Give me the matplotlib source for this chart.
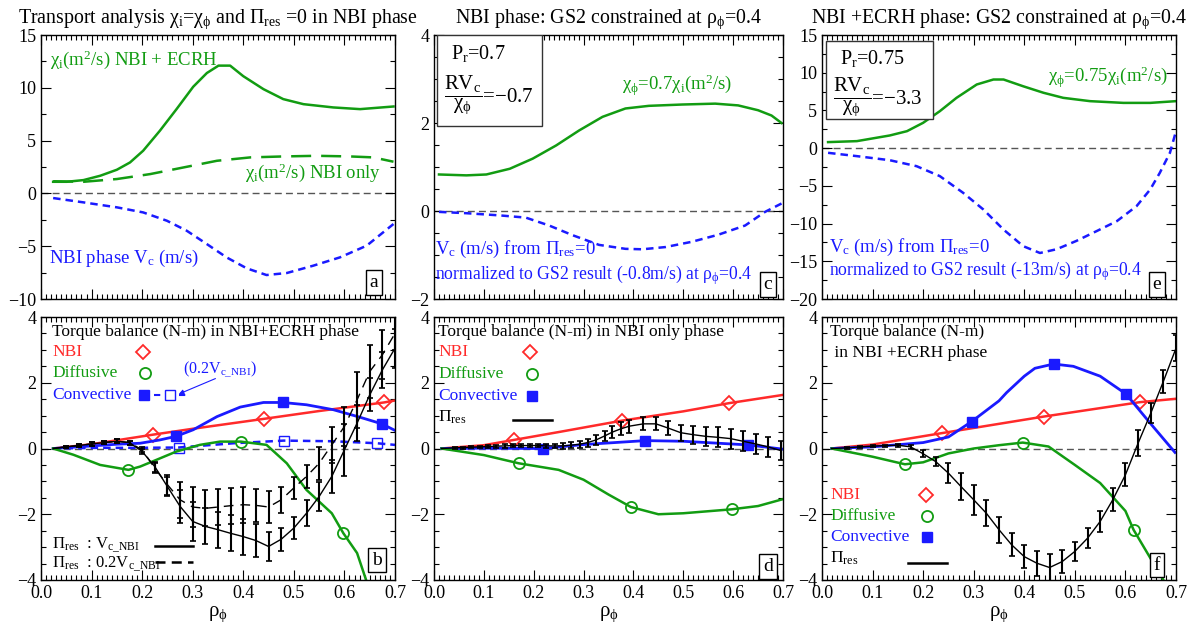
import matplotlib
matplotlib.use("Agg")
import matplotlib.pyplot as plt
from matplotlib.patches import Rectangle
from matplotlib.ticker import MultipleLocator
import numpy as np

plt.rcParams['font.family'] = ['Liberation Serif', 'DejaVu Serif']
plt.rcParams['mathtext.fontset'] = 'custom'
plt.rcParams['mathtext.rm'] = 'Liberation Serif'
plt.rcParams['mathtext.it'] = 'Liberation Serif'
plt.rcParams['mathtext.bf'] = 'Liberation Serif'
plt.rcParams['mathtext.default'] = 'regular'

GREEN = '#129c12'
RED = '#ff2a2a'
BLUE = '#1a1aff'

# ---------------- Panel a ----------------
rho_a_chi_ecrh = [0.024, 0.051, 0.084, 0.117, 0.15, 0.176, 0.202, 0.235, 0.268, 0.301, 0.328, 0.351, 0.374, 0.400, 0.44, 0.479, 0.519, 0.578, 0.631, 0.697]
chi_a_ecrh = [1.1, 1.1, 1.26, 1.67, 2.24, 2.93, 4.04, 5.93, 7.98, 10.1, 11.4, 12.1, 12.1, 11.1, 9.87, 8.93, 8.45, 8.14, 7.98, 8.23]
rho_a_chi_nbi = [0.024, 0.084, 0.15, 0.216, 0.282, 0.348, 0.414, 0.479, 0.545, 0.611, 0.657, 0.697]
chi_a_nbi = [1.15, 1.1, 1.36, 1.83, 2.46, 3.09, 3.41, 3.50, 3.56, 3.5, 3.41, 3.0]
rho_a_vc = [0.024, 0.084, 0.15, 0.202, 0.249, 0.288, 0.328, 0.367, 0.407, 0.446, 0.486, 0.538, 0.591, 0.644, 0.697]
vc_a = [-0.44, -0.85, -1.32, -1.8, -2.59, -3.53, -4.8, -6.06, -7.1, -7.73, -7.54, -6.85, -6.06, -4.95, -2.9]

# ---------------- Panel c ----------------
rho_c_chi = [0.01, 0.065, 0.105, 0.152, 0.198, 0.245, 0.291, 0.338, 0.384, 0.431, 0.498, 0.564, 0.610, 0.650, 0.677, 0.697]
chi_c = [0.83, 0.81, 0.83, 0.96, 1.19, 1.49, 1.83, 2.14, 2.33, 2.39, 2.42, 2.44, 2.40, 2.29, 2.17, 2.0]
rho_c_vc = [0.01, 0.065, 0.132, 0.184, 0.231, 0.278, 0.331, 0.384, 0.418, 0.464, 0.517, 0.570, 0.624, 0.664, 0.697]
vc_c = [-0.02, -0.05, -0.1, -0.15, -0.33, -0.55, -0.77, -0.86, -0.87, -0.82, -0.7, -0.54, -0.33, -0.02, 0.17]

# ---------------- Panel e ----------------
rho_e_chi = [0.012, 0.069, 0.134, 0.168, 0.2, 0.233, 0.266, 0.306, 0.339, 0.359, 0.398, 0.438, 0.477, 0.53, 0.596, 0.649, 0.7]
chi_e = [0.8, 0.93, 1.68, 2.25, 3.36, 4.9, 6.67, 8.44, 9.1, 9.1, 8.2, 7.34, 6.67, 6.23, 6.0, 6.0, 6.23]
rho_e_vc = [0.012, 0.069, 0.134, 0.187, 0.233, 0.279, 0.319, 0.359, 0.398, 0.431, 0.464, 0.503, 0.543, 0.583, 0.622, 0.649, 0.668, 0.688, 0.7]
vc_e = [-0.62, -1.06, -1.6, -2.39, -3.71, -5.92, -8.13, -10.8, -13.0, -13.9, -13.4, -12.3, -11.0, -9.68, -7.69, -5.48, -3.27, -0.62, 2.25]

# ---------------- Panel b ----------------
rho_b_nbi = [0.024, 0.1, 0.15, 0.221, 0.3, 0.44, 0.55, 0.678, 0.7]
nbi_b = [0.0, 0.13, 0.25, 0.42, 0.6, 0.90, 1.14, 1.40, 1.46]
rho_b_nbi_mk = [0.221, 0.440, 0.678]
nbi_b_mk = [0.42, 0.90, 1.40]
rho_b_conv = [0.024, 0.084, 0.15, 0.196, 0.235, 0.267, 0.301, 0.348, 0.394, 0.44, 0.478, 0.525, 0.578, 0.631, 0.674, 0.7]
conv_b = [0.0, 0.06, 0.13, 0.16, 0.26, 0.37, 0.57, 0.97, 1.26, 1.40, 1.40, 1.33, 1.18, 0.95, 0.75, 0.55]
rho_b_conv_mk = [0.267, 0.478, 0.674]
conv_b_mk = [0.37, 1.40, 0.76]
rho_b_conv02 = [0.024, 0.117, 0.183, 0.272, 0.381, 0.480, 0.578, 0.664, 0.7]
conv02_b = [0.0, 0.02, 0.02, 0.03, 0.16, 0.24, 0.22, 0.16, 0.11]
rho_b_conv02_mk = [0.272, 0.480, 0.664]
conv02_b_mk = [0.03, 0.24, 0.16]
rho_b_diff = [0.024, 0.064, 0.117, 0.173, 0.196, 0.229, 0.268, 0.314, 0.354, 0.395, 0.446, 0.486, 0.525, 0.575, 0.598, 0.625, 0.645]
diff_b = [0.0, -0.19, -0.5, -0.65, -0.55, -0.34, -0.09, 0.11, 0.21, 0.21, 0.11, -0.45, -1.26, -1.97, -2.58, -3.18, -4.1]
rho_b_diff_mk = [0.173, 0.395, 0.598]
diff_b_mk = [-0.65, 0.21, -2.58]
rho_b_res = [0.05, 0.075, 0.1, 0.125, 0.15, 0.175, 0.2, 0.225, 0.25, 0.275, 0.3, 0.325, 0.35, 0.375, 0.4,
             0.425, 0.45, 0.475, 0.5, 0.525, 0.55, 0.575, 0.6, 0.625, 0.65, 0.675, 0.7]
res_b = [0.05, 0.09, 0.14, 0.18, 0.22, 0.18, -0.09, -0.55, -1.16, -1.76, -2.22, -2.37, -2.47, -2.58, -2.68,
         -2.8, -2.98, -2.76, -2.42, -1.97, -1.46, -0.85, -0.04, 0.77, 1.63, 2.39, 3.05]
res_b_err = [0.03, 0.04, 0.05, 0.05, 0.06, 0.06, 0.08, 0.15, 0.3, 0.5, 0.6, 0.55, 0.55, 0.55, 0.55,
             0.5, 0.45, 0.35, 0.33, 0.4, 0.45, 0.5, 0.8, 0.55, 0.5, 0.55, 0.6]
res02_b = [0.05, 0.09, 0.14, 0.18, 0.22, 0.18, -0.04, -0.6, -1.1, -1.56, -1.78, -1.82, -1.78, -1.74, -1.71,
           -1.73, -1.78, -1.56, -1.2, -0.85, -0.45, 0.11, 0.67, 1.48, 2.34, 2.85, 3.5]
res02_b_err = [0.03, 0.04, 0.05, 0.05, 0.06, 0.06, 0.08, 0.15, 0.3, 0.55, 0.6, 0.55, 0.55, 0.55, 0.55,
               0.5, 0.5, 0.4, 0.33, 0.35, 0.5, 0.55, 0.6, 0.85, 0.8, 0.75, 0.5]

# ---------------- Panel d ----------------
rho_d_nbi = [0.015, 0.1, 0.16, 0.25, 0.378, 0.5, 0.592, 0.7]
nbi_d = [0.0, 0.1, 0.26, 0.5, 0.85, 1.13, 1.38, 1.63]
rho_d_nbi_mk = [0.16, 0.378, 0.592]
nbi_d_mk = [0.26, 0.85, 1.38]
rho_d_conv = [0.015, 0.1, 0.218, 0.3, 0.424, 0.5, 0.629, 0.7]
conv_d = [0.0, 0.01, 0.0, 0.12, 0.24, 0.22, 0.11, -0.02]
rho_d_conv_mk = [0.218, 0.424, 0.629]
conv_d_mk = [0.0, 0.24, 0.11]
rho_d_diff = [0.015, 0.1, 0.17, 0.25, 0.3, 0.35, 0.395, 0.45, 0.5, 0.597, 0.65, 0.7]
diff_d = [0.0, -0.2, -0.45, -0.65, -0.95, -1.4, -1.78, -2.0, -1.97, -1.85, -1.75, -1.54]
rho_d_diff_mk = [0.17, 0.395, 0.597]
diff_d_mk = [-0.45, -1.78, -1.85]
rho_d_res = [0.042, 0.058, 0.075, 0.092, 0.108, 0.125, 0.142, 0.158, 0.175, 0.192, 0.208, 0.225, 0.242, 0.258,
             0.275, 0.292, 0.308, 0.325, 0.342, 0.358, 0.375, 0.392, 0.42, 0.445, 0.47, 0.495, 0.52, 0.545,
             0.57, 0.595, 0.62, 0.645, 0.67, 0.695]
res_d = [0.02, 0.03, 0.04, 0.05, 0.06, 0.07, 0.08, 0.09, 0.09, 0.09, 0.09, 0.08, 0.08, 0.08,
         0.1, 0.13, 0.18, 0.26, 0.38, 0.5, 0.6, 0.68, 0.75, 0.75, 0.62, 0.48, 0.42, 0.37,
         0.34, 0.3, 0.22, 0.14, 0.05, -0.06]
res_d_err = [0.03, 0.03, 0.03, 0.04, 0.04, 0.04, 0.05, 0.05, 0.05, 0.05, 0.05, 0.06, 0.07, 0.08,
             0.09, 0.1, 0.12, 0.14, 0.16, 0.18, 0.2, 0.2, 0.2, 0.2, 0.22, 0.25, 0.27, 0.28,
             0.3, 0.3, 0.3, 0.3, 0.3, 0.3]

# ---------------- Panel f ----------------
rho_f_nbi = [0.019, 0.1, 0.238, 0.438, 0.629, 0.698]
nbi_f = [0.0, 0.12, 0.47, 0.97, 1.41, 1.51]
rho_f_nbi_mk = [0.238, 0.438, 0.629]
nbi_f_mk = [0.47, 0.97, 1.41]
rho_f_conv = [0.019, 0.1, 0.2, 0.25, 0.296, 0.35, 0.365, 0.4, 0.421, 0.458, 0.497, 0.55, 0.601, 0.649, 0.698]
conv_f = [0.0, 0.05, 0.18, 0.35, 0.82, 1.45, 1.7, 2.2, 2.44, 2.57, 2.5, 2.2, 1.66, 0.77, -0.12]
rho_f_conv_mk = [0.296, 0.458, 0.601]
conv_f_mk = [0.82, 2.57, 1.66]
rho_f_diff = [0.019, 0.1, 0.164, 0.2, 0.25, 0.3, 0.35, 0.397, 0.448, 0.5, 0.55, 0.6, 0.616, 0.675]
diff_f = [0.0, -0.25, -0.48, -0.42, -0.15, 0.0, 0.1, 0.18, 0.06, -0.5, -1.05, -1.9, -2.47, -4.0]
rho_f_diff_mk = [0.164, 0.397, 0.616]
diff_f_mk = [-0.48, 0.18, -2.47]
rho_f_res = [0.05, 0.075, 0.1, 0.125, 0.15, 0.175, 0.2, 0.225, 0.25, 0.275, 0.3, 0.325, 0.35, 0.375, 0.4,
             0.425, 0.45, 0.475, 0.5, 0.525, 0.55, 0.575, 0.6, 0.625, 0.65, 0.675, 0.7]
res_f = [0.02, 0.05, 0.07, 0.09, 0.1, 0.05, -0.16, -0.4, -0.75, -1.16, -1.56, -1.97, -2.47, -2.93, -3.29,
         -3.49, -3.62, -3.44, -3.13, -2.73, -2.22, -1.56, -0.8, 0.16, 1.07, 2.04, 3.05]
res_f_err = [0.02, 0.02, 0.03, 0.03, 0.04, 0.05, 0.1, 0.13, 0.3, 0.4, 0.45, 0.4, 0.4, 0.35, 0.35,
             0.38, 0.4, 0.35, 0.3, 0.3, 0.33, 0.35, 0.35, 0.4, 0.3, 0.35, 0.4]

xticks = [0.0, 0.1, 0.2, 0.3, 0.4, 0.5, 0.6, 0.7]

FS_TICK = 13
FS_TXT = 12.5
FS_NOTE = 13.5

fig = plt.figure(figsize=(11.89, 6.26), dpi=100)
W, H = 1189.0, 626.0

def mkax(x0, x1, y0, y1):
    return fig.add_axes([x0 / W, 1 - y1 / H, (x1 - x0) / W, (y1 - y0) / H])

ax_a = mkax(41, 395, 35, 299)
ax_c = mkax(434, 783, 35, 299)
ax_e = mkax(822, 1176, 35, 299)
ax_b = mkax(41, 395, 317, 580)
ax_d = mkax(434, 783, 317, 580)
ax_f = mkax(822, 1176, 317, 580)

def style(ax, ylim, ymaj, ymin, bottom):
    ax.set_xlim(0, 0.7)
    ax.set_ylim(*ylim)
    ax.xaxis.set_major_locator(MultipleLocator(0.1))
    ax.xaxis.set_minor_locator(MultipleLocator(0.01))
    ax.yaxis.set_major_locator(MultipleLocator(ymaj))
    ax.yaxis.set_minor_locator(MultipleLocator(ymin))
    ax.tick_params(which='both', direction='in', top=True, right=True, labelsize=FS_TICK, width=0.8)
    ax.tick_params(which='major', length=7)
    ax.tick_params(which='minor', length=3.5)
    if bottom:
        ax.set_xticks(xticks)
        ax.set_xticklabels(['%.1f' % v for v in xticks])
        ax.set_xlabel(r'$\rho_\phi$', fontsize=15, labelpad=2)
    else:
        ax.set_xticklabels([])
    yt = ax.get_yticks()
    ax.set_yticks(yt)
    ax.set_yticklabels([('%g' % v).replace('-', '\u2212') for v in yt])
    ax.set_ylim(*ylim)
    ax.axhline(0, color='#555555', lw=1.0, ls=(0, (5, 3)), zorder=1)
    for s in ax.spines.values():
        s.set_linewidth(1.0)

def letter_box(ax, s, x, y):
    ax.text(x, y, s, transform=ax.transAxes, fontsize=14, ha='center', va='center',
            bbox=dict(boxstyle='square,pad=0.2', fc='white', ec='black', lw=1.0), zorder=6)

# ---- a ----
style(ax_a, (-10, 15), 5, 2.5, False)
ax_a.plot(rho_a_chi_ecrh, chi_a_ecrh, color=GREEN, lw=1.8)
ax_a.plot(rho_a_chi_nbi, chi_a_nbi, color=GREEN, lw=1.8, ls=(0, (8, 4)))
ax_a.plot(rho_a_vc, vc_a, color=BLUE, lw=1.8, ls=(0, (3, 2)))
ax_a.set_title(r'Transport analysis $\chi_i$=$\chi_\phi$ and $\Pi_{res}$ =0 in NBI phase', fontsize=14.3, pad=8.5)
ax_a.text(0.025, 0.905, r'$\chi_i$(m$^2$/s) NBI + ECRH', transform=ax_a.transAxes, color=GREEN, fontsize=FS_NOTE, va='center')
ax_a.text(0.576, 0.477, r'$\chi_i$(m$^2$/s) NBI only', transform=ax_a.transAxes, color=GREEN, fontsize=FS_NOTE, va='center')
ax_a.text(0.023, 0.155, r'NBI phase V$_c$ (m/s)', transform=ax_a.transAxes, color=BLUE, fontsize=FS_NOTE, va='center')
letter_box(ax_a, 'a', 0.94, 0.062)

# ---- c ----
style(ax_c, (-2, 4), 2, 0.5, False)
ax_c.plot(rho_c_chi, chi_c, color=GREEN, lw=1.8)
ax_c.plot(rho_c_vc, vc_c, color=BLUE, lw=1.8, ls=(0, (3, 2)))
ax_c.set_title(r'NBI phase: GS2 constrained at $\rho_\phi$=0.4', fontsize=14.3, pad=8.5)
ax_c.add_patch(Rectangle((0.01, 0.655), 0.30, 0.345, transform=ax_c.transAxes, fc='white', ec='#333333', lw=1.0, zorder=5))
ax_c.text(0.05, 0.93, r'P$_r$=0.7', transform=ax_c.transAxes, fontsize=14.5, va='center', zorder=6)
ax_c.text(0.03, 0.77, r'$\dfrac{RV_c}{\chi_\phi}$=$-$0.7', transform=ax_c.transAxes, fontsize=15, va='center', zorder=6)
ax_c.text(0.54, 0.81, r'$\chi_\phi$=0.7$\chi_i$(m$^2$/s)', transform=ax_c.transAxes, color=GREEN, fontsize=FS_NOTE, va='center')
ax_c.text(0.003, 0.186, r'V$_c$ (m/s) from $\Pi_{res}$=0', transform=ax_c.transAxes, color=BLUE, fontsize=FS_NOTE, va='center')
ax_c.text(0.003, 0.09, r'normalized to GS2 result (-0.8m/s) at $\rho_\phi$=0.4', transform=ax_c.transAxes, color=BLUE, fontsize=12.7, va='center')
letter_box(ax_c, 'c', 0.957, 0.055)

# ---- e ----
style(ax_e, (-20, 15), 5, 2.5, False)
ax_e.plot(rho_e_chi, chi_e, color=GREEN, lw=1.8)
ax_e.plot(rho_e_vc, vc_e, color=BLUE, lw=1.8, ls=(0, (3, 2)))
ax_e.set_title(r'NBI +ECRH phase: GS2 constrained at $\rho_\phi$=0.4', fontsize=14.3, pad=8.5)
ax_e.add_patch(Rectangle((0.011, 0.682), 0.303, 0.295, transform=ax_e.transAxes, fc='white', ec='#333333', lw=1.0, zorder=5))
ax_e.text(0.05, 0.91, r'P$_r$=0.75', transform=ax_e.transAxes, fontsize=14.5, va='center', zorder=6)
ax_e.text(0.03, 0.765, r'$\dfrac{RV_c}{\chi_\phi}$=$-$3.3', transform=ax_e.transAxes, fontsize=15, va='center', zorder=6)
ax_e.text(0.977, 0.84, r'$\chi_\phi$=0.75$\chi_i$(m$^2$/s)', transform=ax_e.transAxes, color=GREEN, fontsize=FS_NOTE, va='center', ha='right')
ax_e.text(0.02, 0.197, r'V$_c$ (m/s) from $\Pi_{res}$=0', transform=ax_e.transAxes, color=BLUE, fontsize=FS_NOTE, va='center')
ax_e.text(0.02, 0.106, r'normalized to GS2 result (-13m/s) at $\rho_\phi$=0.4', transform=ax_e.transAxes, color=BLUE, fontsize=12.7, va='center')
letter_box(ax_e, 'e', 0.946, 0.055)

# ---- b ----
MS = dict(ms=8, mew=1.3)
style(ax_b, (-4, 4), 2, 0.5, True)
ax_b.plot(rho_b_nbi, nbi_b, color=RED, lw=1.8)
ax_b.plot(rho_b_nbi_mk, nbi_b_mk, ls='none', marker='D', mfc='none', mec=RED, ms=7, mew=1.3)
ax_b.plot(rho_b_conv, conv_b, color=BLUE, lw=2.0)
ax_b.plot(rho_b_conv_mk, conv_b_mk, ls='none', marker='s', color=BLUE, ms=6.5)
ax_b.plot(rho_b_conv02, conv02_b, color=BLUE, lw=1.8, ls=(0, (3, 2)))
ax_b.plot(rho_b_conv02_mk, conv02_b_mk, ls='none', marker='s', mfc='none', mec=BLUE, ms=6.5, mew=1.0)
ax_b.plot(rho_b_diff, diff_b, color=GREEN, lw=1.8)
ax_b.plot(rho_b_diff_mk, diff_b_mk, ls='none', marker='o', mfc='none', mec=GREEN, **MS)
ax_b.plot([0.024] + rho_b_res, [0.0] + res_b, color='black', lw=1.0)
ax_b.errorbar(rho_b_res, res_b, yerr=res_b_err, fmt='none', ecolor='black', elinewidth=1.5, capsize=2.5, capthick=1.2)
ax_b.plot([0.024] + rho_b_res, [0.0] + res02_b, color='black', lw=1.0, ls=(0, (7, 5)))
ax_b.errorbar(rho_b_res, res02_b, yerr=res02_b_err, fmt='none', ecolor='black', elinewidth=1.5, capsize=2.5, capthick=1.2)
tb = ax_b.transAxes
ax_b.text(0.031, 0.943, 'Torque balance (N-m) in NBI+ECRH phase', transform=tb, fontsize=FS_TXT, va='center')
ax_b.text(0.031, 0.867, 'NBI', transform=tb, fontsize=FS_TXT, va='center', color=RED)
ax_b.plot([0.288], [0.867], transform=tb, marker='D', mfc='none', mec=RED, ms=7, mew=1.3, clip_on=False)
ax_b.text(0.031, 0.787, 'Diffusive', transform=tb, fontsize=FS_TXT, va='center', color=GREEN)
ax_b.plot([0.294], [0.787], transform=tb, marker='o', mfc='none', mec=GREEN, clip_on=False, **MS)
ax_b.text(0.031, 0.703, 'Convective', transform=tb, fontsize=FS_TXT, va='center', color=BLUE)
ax_b.plot([0.291], [0.703], transform=tb, marker='s', color=BLUE, ms=6.5, clip_on=False)
ax_b.plot([0.318, 0.415], [0.703, 0.703], transform=tb, color=BLUE, lw=1.5, ls=(0, (3, 3)))
ax_b.plot([0.364], [0.703], transform=tb, marker='s', mfc='white', mec=BLUE, ms=6.5, mew=1.0)
ax_b.text(0.40, 0.80, r'(0.2V$_{c\_NBI}$)', transform=tb, fontsize=11.5, va='center', color=BLUE)
ax_b.annotate('', xy=(0.382, 0.703), xytext=(0.50, 0.77), xycoords=tb, textcoords=tb,
              arrowprops=dict(arrowstyle='-|>', color=BLUE, lw=0.8, mutation_scale=7))
ax_b.text(0.031, 0.132, r'$\Pi_{res}$  : V$_{c\_NBI}$', transform=tb, fontsize=12, va='center')
ax_b.plot([0.322, 0.43], [0.129, 0.129], transform=tb, color='black', lw=1.8)
ax_b.text(0.031, 0.062, r'$\Pi_{res}$  : 0.2V$_{c\_NBI}$', transform=tb, fontsize=12, va='center')
ax_b.plot([0.322, 0.43], [0.068, 0.068], transform=tb, color='black', lw=1.8, ls=(0, (4, 2.5)))
letter_box(ax_b, 'b', 0.949, 0.076)

# ---- d ----
style(ax_d, (-4, 4), 2, 0.5, True)
ax_d.plot(rho_d_nbi, nbi_d, color=RED, lw=1.8)
ax_d.plot(rho_d_nbi_mk, nbi_d_mk, ls='none', marker='D', mfc='none', mec=RED, ms=7, mew=1.3)
ax_d.plot(rho_d_conv, conv_d, color=BLUE, lw=2.0)
ax_d.plot(rho_d_conv_mk, conv_d_mk, ls='none', marker='s', color=BLUE, ms=6.5)
ax_d.plot(rho_d_diff, diff_d, color=GREEN, lw=1.8)
ax_d.plot(rho_d_diff_mk, diff_d_mk, ls='none', marker='o', mfc='none', mec=GREEN, **MS)
ax_d.plot([0.015] + rho_d_res, [0.0] + res_d, color='black', lw=1.0)
ax_d.errorbar(rho_d_res, res_d, yerr=res_d_err, fmt='none', ecolor='black', elinewidth=1.5, capsize=2.5, capthick=1.2)
td = ax_d.transAxes
ax_d.text(0.012, 0.943, 'Torque balance (N-m) in NBI only phase', transform=td, fontsize=FS_TXT, va='center')
ax_d.text(0.012, 0.867, 'NBI', transform=td, fontsize=FS_TXT, va='center', color=RED)
ax_d.plot([0.275], [0.867], transform=td, marker='D', mfc='none', mec=RED, ms=7, mew=1.3, clip_on=False)
ax_d.text(0.012, 0.783, 'Diffusive', transform=td, fontsize=FS_TXT, va='center', color=GREEN)
ax_d.plot([0.28], [0.783], transform=td, marker='o', mfc='none', mec=GREEN, clip_on=False, **MS)
ax_d.text(0.012, 0.70, 'Convective', transform=td, fontsize=FS_TXT, va='center', color=BLUE)
ax_d.plot([0.28], [0.70], transform=td, marker='s', color=BLUE, ms=6.5, clip_on=False)
ax_d.text(0.012, 0.618, r'$\Pi_{res}$', transform=td, fontsize=FS_TXT, va='center')
ax_d.plot([0.227, 0.338], [0.61, 0.61], transform=td, color='black', lw=1.8)
letter_box(ax_d, 'd', 0.957, 0.052)

# ---- f ----
style(ax_f, (-4, 4), 2, 0.5, True)
ax_f.plot(rho_f_nbi, nbi_f, color=RED, lw=1.8)
ax_f.plot(rho_f_nbi_mk, nbi_f_mk, ls='none', marker='D', mfc='none', mec=RED, ms=7, mew=1.3)
ax_f.plot(rho_f_conv, conv_f, color=BLUE, lw=2.0)
ax_f.plot(rho_f_conv_mk, conv_f_mk, ls='none', marker='s', color=BLUE, ms=6.5)
ax_f.plot(rho_f_diff, diff_f, color=GREEN, lw=1.8)
ax_f.plot(rho_f_diff_mk, diff_f_mk, ls='none', marker='o', mfc='none', mec=GREEN, **MS)
ax_f.plot([0.019] + rho_f_res, [0.0] + res_f, color='black', lw=1.0)
ax_f.errorbar(rho_f_res, res_f, yerr=res_f_err, fmt='none', ecolor='black', elinewidth=1.5, capsize=2.5, capthick=1.2)
tf = ax_f.transAxes
ax_f.text(0.023, 0.943, 'Torque balance (N-m)', transform=tf, fontsize=FS_TXT, va='center')
ax_f.text(0.023, 0.863, ' in NBI +ECRH phase', transform=tf, fontsize=FS_TXT, va='center')
ax_f.text(0.023, 0.323, 'NBI', transform=tf, fontsize=FS_TXT, va='center', color=RED)
ax_f.plot([0.294], [0.323], transform=tf, marker='D', mfc='none', mec=RED, ms=7, mew=1.3, clip_on=False)
ax_f.text(0.023, 0.243, 'Diffusive', transform=tf, fontsize=FS_TXT, va='center', color=GREEN)
ax_f.plot([0.298], [0.243], transform=tf, marker='o', mfc='none', mec=GREEN, clip_on=False, **MS)
ax_f.text(0.023, 0.163, 'Convective', transform=tf, fontsize=FS_TXT, va='center', color=BLUE)
ax_f.plot([0.296], [0.163], transform=tf, marker='s', color=BLUE, ms=6.5, clip_on=False)
ax_f.text(0.023, 0.084, r'$\Pi_{res}$', transform=tf, fontsize=FS_TXT, va='center')
ax_f.plot([0.243, 0.353], [0.065, 0.065], transform=tf, color='black', lw=1.8)
letter_box(ax_f, 'f', 0.946, 0.057)

fig.savefig('out.png', dpi=100)
